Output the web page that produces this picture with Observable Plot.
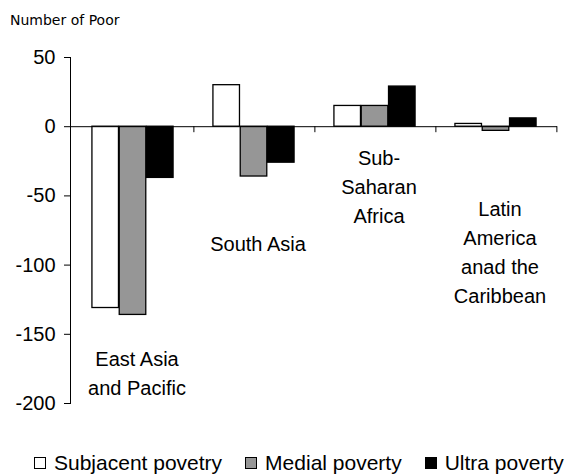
<!DOCTYPE html>
<html><head><meta charset="utf-8">
<script src="https://cdn.jsdelivr.net/npm/d3@7"></script>
<script src="https://cdn.jsdelivr.net/npm/@observablehq/plot@0.6"></script>
<style>
body{margin:0;background:#fff;width:567px;height:475px;overflow:hidden}
#title{box-sizing:border-box;height:30px;padding:12px 0 0 10px;font:14px/16px "DejaVu Sans",sans-serif;color:#000}
#chart{height:421px}
#legend{height:24px;display:flex;align-items:center;padding-left:34px;font:21px/24px "Liberation Sans",Arial,sans-serif;color:#000;white-space:nowrap}
.item{display:flex;align-items:center;margin-right:23px}
.sw{box-sizing:border-box;width:12px;height:12px;border:1.3px solid #000;margin-right:8px}
</style>
</head><body>
<div id="title">Number of Poor</div>
<div id="chart"></div>
<div id="legend"></div>
<script>
const regions = ["East Asia and Pacific", "South Asia", "Sub-Saharan Africa", "Latin America and the Caribbean"];
const labelLines = ["East Asia\nand Pacific", "South Asia", "Sub-\nSaharan\nAfrica", "Latin\nAmerica\nanad the\nCaribbean"];
const labelY = [-158, -75, -13, -50];
const series = ["Subjacent povetry", "Medial poverty", "Ultra poverty"];
const subjacent = [-131, 30, 15, 2];
const medial = [-136, -36, 15, -3];
const ultra = [-37, -26, 29, 6];
const yTicks = [-200, -150, -100, -50, 0, 50];
const colors = ["#ffffff", "#969696", "#000000"];

const values = [subjacent, medial, ultra];
const rows = [];
series.forEach((s, k) => regions.forEach((r, i) => rows.push({series: s, region: r, value: values[k][i]})));

const W = 567, H = 421, mL = 70, mR = 10, mT = 27, mB = 48;
const band = (W - mL - mR) / regions.length;
const bw = 27.3;
const gLeft = (band - series.length * bw) / 2;

const bars = series.map((s, k) => Plot.barY(rows, {
  filter: d => d.series === s,
  x: "region", y: "value",
  fill: colors[k], stroke: "#000", strokeWidth: 1.3,
  insetLeft: gLeft + k * bw,
  insetRight: band - gLeft - (k + 1) * bw
}));

const chart = Plot.plot({
  width: W, height: H,
  marginLeft: mL, marginRight: mR, marginTop: mT, marginBottom: mB,
  style: {fontFamily: "'Liberation Sans', Arial, sans-serif", fontSize: "20px", color: "#000", background: "#fff", overflow: "visible"},
  x: {type: "band", domain: regions, padding: 0, axis: null},
  y: {domain: [-200, 50]},
  marks: [
    ...bars,
    Plot.ruleY([0], {stroke: "#000", strokeWidth: 1}),
    Plot.ruleX(regions, {x: d => d, y1: 0, y2: 0, insetBottom: -6, dx: band / 2, stroke: "#000"}),
    Plot.frame({anchor: "left", stroke: "#000"}),
    Plot.axisY({ticks: yTicks, tickSize: 6, tickPadding: 9, tickFormat: d => String(d), fontSize: 20, label: null, stroke: "#000"}),
    Plot.text(regions, {x: d => d, y: (d, i) => labelY[i], text: (d, i) => labelLines[i], lineAnchor: "top", lineHeight: 1.45, fontSize: 20, dx: 4, fill: "#000"})
  ]
});
document.getElementById("chart").appendChild(chart);

const legend = document.getElementById("legend");
series.forEach((s, k) => {
  const it = document.createElement("div");
  it.className = "item";
  const sw = document.createElement("span");
  sw.className = "sw";
  sw.style.background = colors[k];
  const t = document.createElement("span");
  t.textContent = s;
  it.appendChild(sw); it.appendChild(t);
  legend.appendChild(it);
});
</script>
</body></html>
